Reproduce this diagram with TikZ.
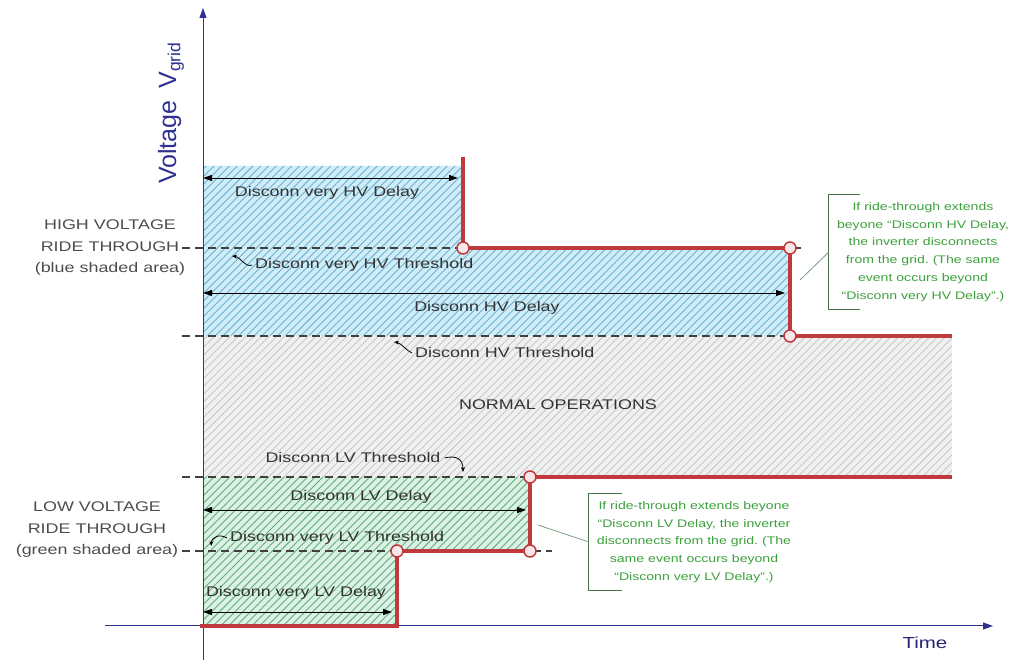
\documentclass[tikz,border=0pt]{standalone}
\usepackage{fontspec}
\setmainfont{Liberation Sans}[FakeStretch=1.28]
\newfontfamily\axisfont{Liberation Sans}
\usetikzlibrary{arrows.meta,patterns.meta}
\frenchspacing

\definecolor{axisblue}{RGB}{46,49,146}
\definecolor{redline}{RGB}{192,57,61}
\definecolor{bluefill}{RGB}{208,236,246}
\definecolor{bluehatch}{RGB}{105,178,210}
\definecolor{grayfill}{RGB}{240,240,240}
\definecolor{grayhatch}{RGB}{200,200,200}
\definecolor{greenfill}{RGB}{218,241,228}
\definecolor{greenhatch}{RGB}{95,172,125}
\definecolor{notegreen}{RGB}{60,160,60}
\definecolor{brkgreen}{RGB}{70,115,70}

\tikzset{
  lbl/.style={font=\fontsize{14}{16}\selectfont, text=black!80, inner sep=0pt},
  side/.style={font=\fontsize{14}{21.5}\selectfont, text=black!70, align=center, inner sep=0pt},
  note/.style={font=\fontsize{11}{17.7}\selectfont, text=notegreen, align=center, inner sep=8pt},
  thr/.style={black!75, line width=1.2pt, dash pattern=on 8pt off 5pt},
  dim/.style={black, line width=0.9pt, {Triangle[length=9pt,width=6pt]}-{Triangle[length=9pt,width=6pt]}},
  axis/.style={axisblue, line width=1pt, -{Triangle[length=10pt,width=7pt]}},
  trace/.style={redline, line width=4.5pt},
  dot/.style={circle, draw=redline, fill=white!88!redline, line width=1.5pt, minimum size=12pt, inner sep=0pt},
  hook/.style={black, line width=0.8pt, -{Stealth[length=5pt,width=4pt]}},
  brk/.style={brkgreen, line width=1pt},
  lead/.style={brkgreen!70, line width=0.8pt},
  hatch/.style 2 args={fill=#1, postaction={pattern={Lines[angle=45,distance=5.5pt,line width=0.9pt]}, pattern color=#2}}
}

\begin{document}
\begin{tikzpicture}[x=1pt,y=1pt]
  \useasboundingbox (0,0) rectangle (1025,660);

  \path[hatch={bluefill}{bluehatch}]
    (203,494) -- (463,494) -- (463,412) -- (790,412) -- (790,324) -- (203,324) -- cycle;
  \path[hatch={grayfill}{grayhatch}] (203,324) rectangle (952,183);
  \path[hatch={greenfill}{greenhatch}]
    (203,183) -- (530,183) -- (530,109) -- (397,109) -- (397,34) -- (203,34) -- cycle;

  \foreach \y/\e in {412/805, 324/790, 183/530, 109/552}
    \draw[thr] (182,\y) -- (\e,\y);

  \coordinate (o) at (203,34);
  \coordinate (ytop) at (203,652);
  \coordinate (ybot) at (203,0);
  \coordinate (xl) at (105,34);
  \coordinate (xr) at (993,34);
  \draw[axis] (ybot) -- (ytop);
  \draw[axis] (xl) -- (xr);

  \coordinate (a1) at (203,482); \coordinate (b1) at (458,482);
  \coordinate (a2) at (203,367); \coordinate (b2) at (785,367);
  \coordinate (a3) at (203,150); \coordinate (b3) at (526,150);
  \coordinate (a4) at (203,48);  \coordinate (b4) at (392,48);
  \begin{scope}[dim]
    \draw (a1) to (b1);
    \draw (a2) to (b2);
    \draw (a3) to (b3);
    \draw (a4) to (b4);
  \end{scope}

  \coordinate (h0) at (463,503);
  \coordinate (h1) at (463,412);
  \coordinate (h2) at (790,412);
  \coordinate (h3) at (790,324);
  \coordinate (h4) at (952,324);
  \coordinate (l0) at (200,34);
  \coordinate (l1) at (397,34);
  \coordinate (l2) at (397,109);
  \coordinate (l3) at (530,109);
  \coordinate (l4) at (530,183);
  \coordinate (l5) at (952,183);
  \draw[trace] (h0) -- (h1) -- (h2) -- (h3) -- (h4);
  \draw[trace] (l0) -- (l1) -- (l2) -- (l3) -- (l4) -- (l5);
  \node[dot] (d1) at (h1) {};
  \node[dot] (d2) at (h2) {};
  \node[dot] (d3) at (h3) {};
  \node[dot] (d4) at (l2) {};
  \node[dot] (d5) at (l4) {};
  \node[dot] (d6) at (l3) {};

  \node[lbl] (vhd) at (327,467) {Disconn very HV Delay};
  \node[lbl, anchor=west] (vht) at (255,395) {Disconn very HV Threshold};
  \node[lbl] (hd) at (487,352) {Disconn HV Delay};
  \node[lbl, anchor=west] (ht) at (415,307) {Disconn HV Threshold};
  \node[lbl] (normal) at (558,255) {NORMAL OPERATIONS};
  \node[lbl] (lt) at (353,202) {Disconn LV Threshold};
  \node[lbl] (ld) at (361,163) {Disconn LV Delay};
  \node[lbl, anchor=west] (vlt) at (230,122) {Disconn very LV Threshold};
  \node[lbl] (vld) at (296,67) {Disconn very LV Delay};

  \coordinate (vhtip) at (232,404);
  \coordinate (htip) at (394,318);
  \coordinate (ltip) at (463,188);
  \coordinate (vltip) at (211,114);
  \draw[hook] ([xshift=-3pt]vht.west) .. controls (246,392) and (240,403) .. (vhtip);
  \draw[hook] ([xshift=-3pt]ht.west) .. controls (407,309) and (401,317) .. (htip);
  \draw[hook] ([xshift=4pt]lt.east) .. controls (456,205) and (463,201) .. (ltip);
  \draw[hook] ([xshift=-3pt]vlt.west) .. controls (220,126) and (212,124) .. (vltip);

  \node[side] (hvside) at (110,412) {HIGH VOLTAGE\\RIDE THROUGH\\(blue shaded area)};
  \node[side] (lvside) at (97,130) {LOW VOLTAGE\\RIDE THROUGH\\(green shaded area)};

  \node[rotate=90, text=axisblue, inner sep=0pt] (vlabel) at (171,547)
    {\axisfont\fontsize{25}{25}\selectfont Voltage\hspace{12pt}V\textsubscript{grid}};
  \node[font=\fontsize{16}{18}\selectfont, text=axisblue!80!black, inner sep=0pt] (time) at (925,17) {Time};

  \node[note] (hvnote) at (923,408) {If ride-through extends\\beyone ``Disconn HV Delay,\\the inverter disconnects\\from the grid. (The same\\event occurs beyond\\``Disconn very HV Delay''.)};
  \node[note] (lvnote) at (694,118) {If ride-through extends beyone\\``Disconn LV Delay, the inverter\\disconnects from the grid. (The\\same event occurs beyond\\``Disconn very LV Delay''.)};
  \draw[brk] ([xshift=31pt]hvnote.north west) -- (hvnote.north west) -- (hvnote.south west) -- ([xshift=31pt]hvnote.south west);
  \draw[brk] ([xshift=33pt]lvnote.north west) -- (lvnote.north west) -- (lvnote.south west) -- ([xshift=33pt]lvnote.south west);
  \coordinate (hvfoot) at (800,380);
  \coordinate (lvfoot) at (538,135);
  \draw[lead] (hvfoot) -- (hvnote.west);
  \draw[lead] (lvfoot) -- (lvnote.west);
\end{tikzpicture}
\end{document}
